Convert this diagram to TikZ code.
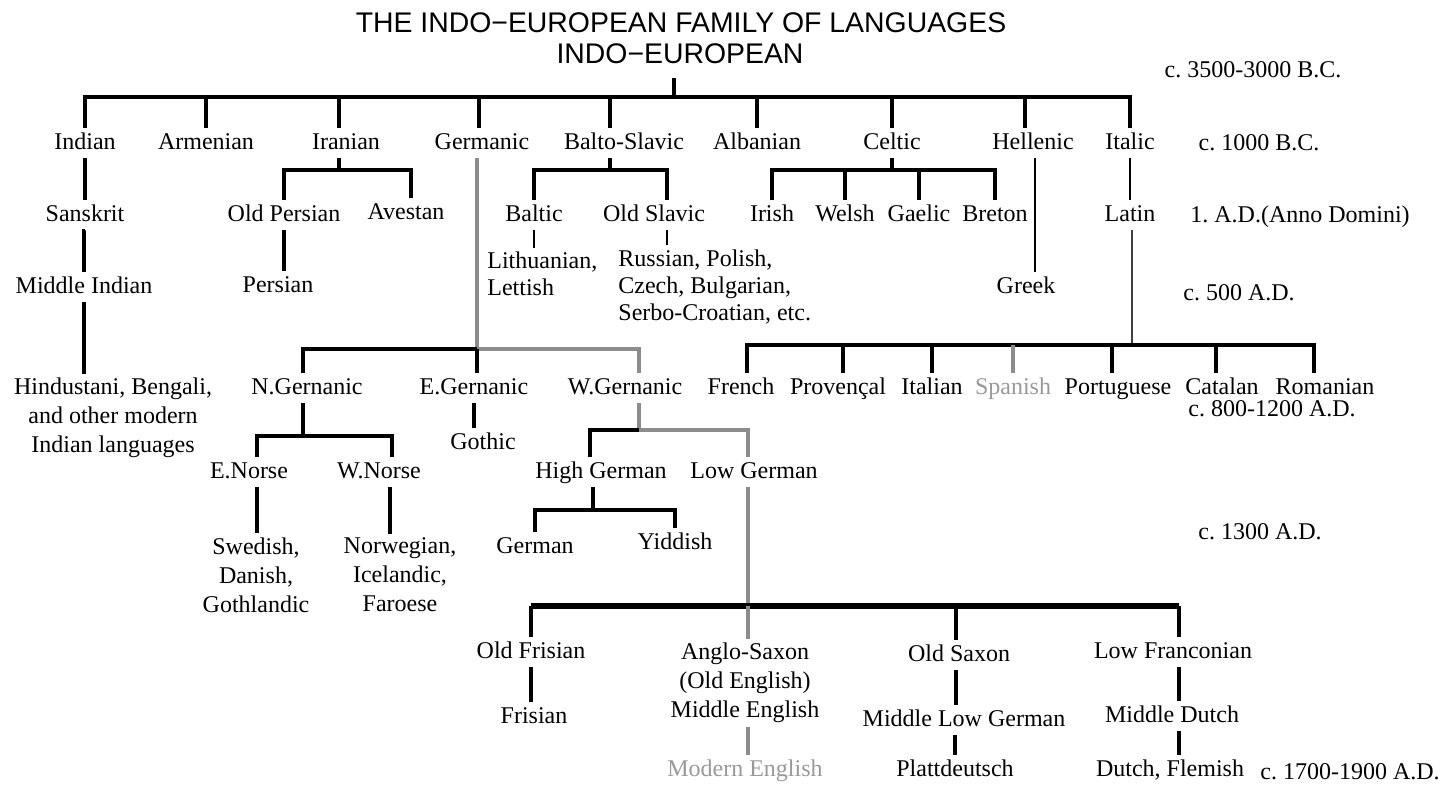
\documentclass[tikz,border=0pt]{standalone}
\usepackage{fontspec}
\usepackage{tikz}
\setmainfont{Liberation Serif}
\newfontfamily\headfont{Liberation Sans}
\newcommand{\fs}{\fontsize{12}{14.5}\selectfont}
\newcommand{\fsb}{\fontsize{12}{13.5}\selectfont}
\newcommand{\fst}{\headfont\fontsize{14.2}{16}\selectfont}
\frenchspacing

\begin{document}
\begin{tikzpicture}[x=0.5pt, y=-0.5pt,
	lang/.style={font=\fs, inner sep=2pt, text height=8.5pt, text depth=2.5pt},
	blk/.style={font=\fs, inner sep=2pt, align=center},
	era/.style={font=\fs, inner sep=2pt},
	ln/.style={line width=1.6pt},
	tln/.style={line width=1.1pt},
	thk/.style={line width=2.8pt},
	gln/.style={line width=1.6pt, black!45}]
		\useasboundingbox (0,0) rectangle (1451,784);

		\node[font=\fst, inner sep=1pt] at (681,23) (title){THE INDO−EUROPEAN FAMILY OF LANGUAGES};
		\node[font=\fst, inner sep=1pt] at (680,54) (ie){INDO−EUROPEAN};

		\node[era] at (1253,70)  (era1){c. 3500-3000 B.C.};
		\node[era] at (1259,143) (era2){c. 1000 B.C.};
		\node[era] at (1300,217) (era3){1. A.D.(Anno Domini)};
		\node[era] at (1239,293) (era4){c. 500 A.D.};
		\node[era] at (1272,409) (era5){c. 800-1200 A.D.};
		\node[era] at (1260,532) (era6){c. 1300 A.D.};
		\node[era] at (1350,772) (era7){c. 1700-1900 A.D.};

		\node[lang] at (85,143)   (indian){Indian};
		\node[lang] at (206,143)  (armenian){Armenian};
		\node[lang] at (346,143)  (iranian){Iranian};
		\node[lang] at (482,143)  (germanic){Germanic};
		\node[lang] at (624,143)  (baltoslavic){Balto-Slavic};
		\node[lang] at (757,143)  (albanian){Albanian};
		\node[lang] at (892,143)  (celtic){Celtic};
		\node[lang] at (1033,143) (hellenic){Hellenic};
		\node[lang] at (1130,143) (italic){Italic};

		\node[lang] at (85,215)   (sanskrit){Sanskrit};
		\node[lang] at (284,215)  (oldpersian){Old Persian};
		\node[lang] at (406,213)  (avestan){Avestan};
		\node[lang] at (534,215)  (baltic){Baltic};
		\node[lang] at (654,215)  (oldslavic){Old Slavic};
		\node[lang] at (772,215)  (irish){Irish};
		\node[lang] at (845,215)  (welsh){Welsh};
		\node[lang] at (919,215)  (gaelic){Gaelic};
		\node[lang] at (995,215)  (breton){Breton};
		\node[lang] at (1130,215) (latin){Latin};

		\node[lang] at (84,287)   (midindian){Middle Indian};
		\node[lang] at (278,286)  (persian){Persian};
		\node[blk, font=\fsb, align=left, anchor=west] at (483,274) (lithuanian){Lithuanian,\\Lettish};
		\node[blk, font=\fsb, align=left, anchor=west] at (614,287) (russian){Russian, Polish,\\Czech, Bulgarian,\\Serbo-Croatian, etc.};
		\node[lang] at (1026,287) (greek){Greek};

		\node[blk] at (113,418)   (hindustani){Hindustani, Bengali,\\and other modern\\Indian languages};
		\node[lang] at (307,388)  (ngerm){N.Gernanic};
		\node[lang] at (474,388)  (egerm){E.Gernanic};
		\node[lang] at (625,388)  (wgerm){W.Gernanic};
		\node[lang] at (741,388)  (french){French};
		\node[lang] at (838,388)  (provencal){Provençal};
		\node[lang] at (932,388)  (italian){Italian};
		\node[lang, text=black!40] at (1013,388) (spanish){Spanish};
		\node[lang] at (1118,388) (portuguese){Portuguese};
		\node[lang] at (1222,388) (catalan){Catalan};
		\node[lang] at (1325,388) (romanian){Romanian};

		\node[lang] at (483,443)  (gothic){Gothic};
		\node[lang] at (249,472)  (enorse){E.Norse};
		\node[lang] at (379,472)  (wnorse){W.Norse};
		\node[lang] at (601,472)  (highgerman){High German};
		\node[lang] at (754,472)  (lowgerman){Low German};
		\node[lang] at (535,547)  (german){German};
		\node[lang] at (675,543)  (yiddish){Yiddish};
		\node[blk] at (256,575)   (swedish){Swedish,\\Danish,\\Gothlandic};
		\node[blk] at (400,575)   (norwegian){Norwegian,\\Icelandic,\\Faroese};

		\node[lang] at (531,652)  (oldfrisian){Old Frisian};
		\node[blk] at (745,683)   (anglosaxon){Anglo-Saxon\\(Old English)\\Middle English};
		\node[lang] at (959,655)  (oldsaxon){Old Saxon};
		\node[lang] at (1173,652) (lowfranc){Low Franconian};
		\node[lang] at (534,717)  (frisian){Frisian};
		\node[lang] at (964,720)  (mlgerman){Middle Low German};
		\node[lang] at (1172,716) (middutch){Middle Dutch};
		\node[lang, text=black!40] at (745,770) (modern){Modern English};
		\node[lang] at (955,770)  (plattdeutsch){Plattdeutsch};
		\node[lang] at (1170,770) (dutch){Dutch, Flemish};

		\coordinate (iebar) at (674,97);
		\coordinate (iranbar) at (339,170);
		\coordinate (bsbar) at (610,170);
		\coordinate (celtbar) at (892,170);
		\coordinate (gerbar) at (477,349);
		\coordinate (rombar) at (1132,345);
		\coordinate (nbar) at (303,436);
		\coordinate (wbar) at (639,430);
		\coordinate (hgbar) at (593,510);
		\coordinate (lgbar) at (748,606);

		\draw[ln] ([yshift=-6pt]ie.south -| iebar) -- (iebar);
		\draw[ln] (indian.north) |- (iebar) -| (italic.north);
		\draw[ln] (armenian.north) -- (armenian.north |- iebar);
		\draw[ln] ([xshift=-3.5pt]iranian.north) -- ([xshift=-3.5pt]iranian.north |- iebar);
		\draw[ln] ([xshift=-1.5pt]germanic.north) -- ([xshift=-1.5pt]germanic.north |- iebar);
		\draw[ln] ([xshift=-7pt]baltoslavic.north) -- ([xshift=-7pt]baltoslavic.north |- iebar);
		\draw[ln] (albanian.north) -- (albanian.north |- iebar);
		\draw[ln] (celtic.north) -- (celtic.north |- iebar);
		\draw[ln] ([xshift=-4pt]hellenic.north) -- ([xshift=-4pt]hellenic.north |- iebar);

		\draw[ln] (indian.south) -- (sanskrit.north);
		\draw[ln] (sanskrit.south) -- (midindian.south |- sanskrit.south) -- (midindian.north);
		\draw[ln] (midindian.south) -- (midindian.south |- hindustani.north);

		\draw[ln] ([xshift=-3.5pt]iranian.south) -- (iranbar);
		\draw[ln] (oldpersian.north) |- (iranbar) -| ([xshift=2.5pt]avestan.north);
		\draw[ln] (oldpersian.south) -- (oldpersian.south |- persian.north);

		\draw[ln] ([xshift=-7pt]baltoslavic.south) -- (bsbar);
		\draw[ln] (baltic.north) |- (bsbar) -| ([xshift=6.5pt]oldslavic.north);
		\draw[tln] (baltic.south) -- (baltic.south |- lithuanian.north);
		\draw[tln] ([xshift=6.5pt]oldslavic.south) -- ([xshift=6.5pt]oldslavic.south |- russian.north);

		\draw[ln] (celtic.south) -- (celtbar);
		\draw[ln] (irish.north) |- (celtbar) -| (breton.north);
		\draw[ln] (welsh.north) -- (welsh.north |- celtbar);
		\draw[ln] (gaelic.north) -- (gaelic.north |- celtbar);

		\draw[tln] ([xshift=1pt]hellenic.south) -- ([xshift=1pt]hellenic.south |- greek.north);

		\draw[tln] (italic.south) -- (latin.north);
		\draw[tln, black!75] (latin.south -| rombar) -- (rombar);
		\draw[ln] ([xshift=3pt]french.north) |- (rombar) -| ([xshift=-5.5pt]romanian.north);
		\draw[ln] ([xshift=2.5pt]provencal.north) -- ([xshift=2.5pt]provencal.north |- rombar);
		\draw[ln] (italian.north) -- (italian.north |- rombar);
		\draw[gln] (spanish.north) -- (spanish.north |- rombar);
		\draw[ln] ([xshift=-3pt]portuguese.north) -- ([xshift=-3pt]portuguese.north |- rombar);
		\draw[ln] ([xshift=-3pt]catalan.north) -- ([xshift=-3pt]catalan.north |- rombar);

		\draw[gln] ([xshift=-2.5pt]germanic.south) -- (gerbar);
		\draw[ln] ([xshift=-2pt]ngerm.north) |- (gerbar);
		\draw[gln] (gerbar) -| ([xshift=7pt]wgerm.north);
		\draw[ln] (gerbar) -- (gerbar |- egerm.north);
		\draw[ln] (egerm.south) -- (egerm.south |- gothic.north);

		\draw[ln] ([xshift=-2pt]ngerm.south) -- (nbar);
		\draw[ln] ([xshift=4pt]enorse.north) |- (nbar) -| ([xshift=6.5pt]wnorse.north);
		\draw[ln] ([xshift=4pt]enorse.south) -- ([xshift=4pt]enorse.south |- swedish.north);
		\draw[ln] ([xshift=5.5pt]wnorse.south) -- ([xshift=5.5pt]wnorse.south |- norwegian.north);

		\draw[gln] ([xshift=7pt]wgerm.south) -- (wbar);
		\draw[ln] ([xshift=-5.5pt]highgerman.north) |- (wbar);
		\draw[gln] (wbar) -| ([xshift=-3pt]lowgerman.north);
		\draw[ln] ([xshift=-4pt]highgerman.south) -- (hgbar);
		\draw[ln] (german.north) |- (hgbar) -| (yiddish.north);

		\draw[gln] ([xshift=-3pt]lowgerman.south) -- (lgbar);
		\draw[thk] (oldfrisian.north |- lgbar) -- ([xshift=3pt]lowfranc.north |- lgbar);
		\draw[ln] (oldfrisian.north) -- (oldfrisian.north |- lgbar);
		\draw[gln] (anglosaxon.north -| lgbar) -- (lgbar);
		\draw[ln] ([xshift=-1.5pt]oldsaxon.north) -- ([xshift=-1.5pt]oldsaxon.north |- lgbar);
		\draw[ln] ([xshift=3pt]lowfranc.north) -- ([xshift=3pt]lowfranc.north |- lgbar);

		\draw[ln] (oldfrisian.south) -- (oldfrisian.south |- frisian.north);
		\draw[gln] (anglosaxon.south -| lgbar) -- (modern.north -| lgbar);
		\draw[ln] ([xshift=-1.5pt]oldsaxon.south) -- ([xshift=-1.5pt]oldsaxon.south |- mlgerman.north);
		\draw[ln] ([xshift=-4.5pt]mlgerman.south) -- ([xshift=-4.5pt]mlgerman.south |- plattdeutsch.north);
		\draw[ln] ([xshift=3pt]lowfranc.south) -- ([xshift=3pt]lowfranc.south |- middutch.north);
		\draw[ln] ([xshift=3.5pt]middutch.south) -- ([xshift=3.5pt]middutch.south |- dutch.north);

	\end{tikzpicture}
\end{document}
